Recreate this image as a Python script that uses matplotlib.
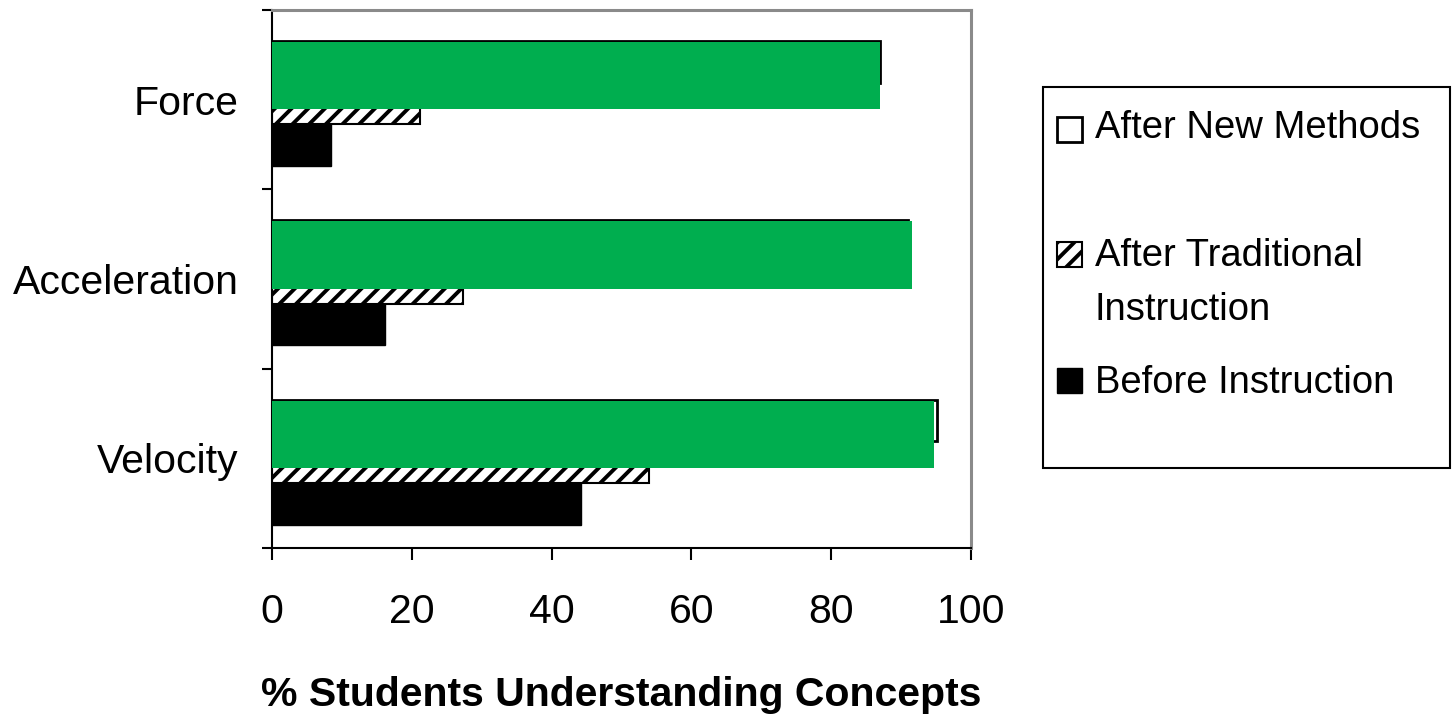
import matplotlib
matplotlib.use("Agg")
import matplotlib.pyplot as plt
from matplotlib.patches import Rectangle
import numpy as np

# categories from bottom to top
concepts = ["Velocity", "Acceleration", "Force"]
before_instruction = [44.2, 16.2, 8.4]
after_traditional = [54.0, 27.3, 21.2]
after_new_methods = [95.1, 91.0, 87.0]
highlight = [94.7, 91.6, 87.0]

legend_labels = ["After New Methods", "After Traditional\nInstruction", "Before Instruction"]
x_ticks = [0, 20, 40, 60, 80, 100]

plt.rcParams["font.family"] = ["Liberation Sans", "DejaVu Sans"]
plt.rcParams["hatch.linewidth"] = 2.8

W, H = 1455, 714
fig = plt.figure(figsize=(W / 100, H / 100), dpi=100)
ax = fig.add_axes([272 / W, 1 - 548 / H, (971 - 272) / W, (548 - 10) / H])

y = np.arange(len(concepts))
bh = 0.232
green = "#00AE4F"

ax.barh(y + 0.711, after_new_methods, height=bh, color="white",
        edgecolor="black", linewidth=2, zorder=2)
ax.barh(y + 0.479, after_traditional, height=bh, color="white",
        edgecolor="black", linewidth=1.5, hatch="//", zorder=2)
ax.barh(y + 0.247, before_instruction, height=bh, color="black",
        edgecolor="black", linewidth=1, zorder=2)
# green highlight laid over the new-methods bars
ax.barh(y + 0.447, highlight, height=0.374, align="edge", color=green,
        linewidth=0, zorder=3)

ax.set_xlim(0, 100)
ax.set_ylim(0, 3)
ax.set_xticks(x_ticks)
ax.set_xticklabels([str(t) for t in x_ticks], fontsize=29.5)
ax.tick_params(axis="x", direction="out", length=8.5, width=1.5, pad=24)

ax.set_yticks(y + 0.5)
ax.set_yticklabels(concepts, fontsize=29.5)
ax.set_yticks(np.arange(4), minor=True)
ax.tick_params(axis="y", which="major", length=0, pad=24)
ax.tick_params(axis="y", which="minor", direction="out", length=7, width=1.5)

for side in ["left", "bottom"]:
    ax.spines[side].set_color("black")
    ax.spines[side].set_linewidth(1.5)
for side in ["top", "right"]:
    ax.spines[side].set_color("#8a8a8a")
    ax.spines[side].set_linewidth(2.2)

ax.set_xlabel("% Students Understanding Concepts", fontsize=29.5,
              fontweight="bold", labelpad=32)


# legend box drawn in figure pixels
def px(x0, y0, w, h):
    return (x0 / W, 1 - (y0 + h) / H), w / W, h / H


xy, w, h = px(1043, 87, 407, 381)
fig.add_artist(Rectangle(xy, w, h, transform=fig.transFigure, fill=False,
                         edgecolor="black", linewidth=1.5))

swatches = [dict(facecolor="white", edgecolor="black", linewidth=2),
            dict(facecolor="white", edgecolor="black", linewidth=1.5, hatch="//"),
            dict(facecolor="black", edgecolor="black", linewidth=1)]
swatch_top = [117, 242, 368]
baselines = [138, 320, 393]  # last line baseline of each label
for lab, st, top, base in zip(legend_labels, swatches, swatch_top, baselines):
    xy, w, h = px(1057, top, 25, 25)
    fig.add_artist(Rectangle(xy, w, h, transform=fig.transFigure, **st))
    fig.text(1095 / W, 1 - base / H, lab, fontsize=27.5, va="baseline",
             ha="left", linespacing=1.65)

fig.savefig("out.png", dpi=100)
